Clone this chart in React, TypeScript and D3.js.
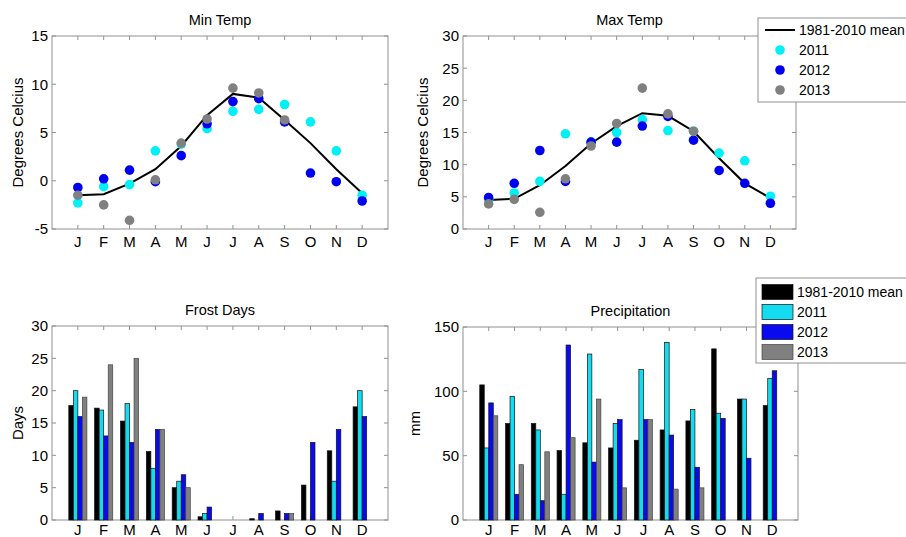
import React, { useEffect, useRef } from "react";
import * as d3 from "d3";

const months = ["J", "F", "M", "A", "M", "J", "J", "A", "S", "O", "N", "D"];
const seriesNames = ["1981-2010 mean", "2011", "2012", "2013"];

// Min temp (deg C)
const minMean = [-1.5, -1.4, -0.3, 1.2, 3.6, 6.8, 9.0, 8.6, 6.3, 3.9, 1.2, -1.3];
const min2011 = [-2.3, -0.6, -0.4, 3.1, 3.8, 5.4, 7.2, 7.4, 7.9, 6.1, 3.1, -1.5];
const min2012 = [-0.7, 0.2, 1.1, -0.1, 2.6, 5.9, 8.2, 8.5, 6.1, 0.8, -0.1, -2.1];
const min2013 = [-1.5, -2.5, -4.1, 0.1, 3.9, 6.4, 9.6, 9.1, 6.3, null, null, null];

// Max temp (deg C)
const maxMean = [4.5, 4.7, 6.8, 9.8, 13.3, 16.0, 18.0, 17.6, 15.2, 11.0, 7.1, 4.8];
const max2011 = [4.6, 5.6, 7.4, 14.8, 13.5, 15.0, 17.0, 15.3, 15.2, 11.8, 10.6, 5.1];
const max2012 = [4.9, 7.1, 12.2, 7.4, 13.5, 13.5, 16.0, 17.5, 13.8, 9.1, 7.1, 4.0];
const max2013 = [3.9, 4.6, 2.6, 7.8, 12.9, 16.4, 21.9, 17.9, 15.2, null, null, null];

// Frost days
const frostMean = [17.7, 17.3, 15.3, 10.6, 5.0, 0.5, 0, 0.2, 1.4, 5.4, 10.7, 17.5];
const frost2011 = [20, 17, 18, 8, 6, 1, 0, 0, 0, 0, 6, 20];
const frost2012 = [16, 13, 12, 14, 7, 2, 0, 1, 1, 12, 14, 16];
const frost2013 = [19, 24, 25, 14, 5, 0, 0, 0, 1, null, null, null];

// Precipitation (mm)
const precMean = [105, 75, 75, 54, 60, 56, 62, 70, 77, 133, 94, 89];
const prec2011 = [56, 96, 70, 20, 129, 75, 117, 138, 86, 83, 94, 110];
const prec2012 = [91, 20, 15, 136, 45, 78, 78, 66, 41, 79, 48, 116];
const prec2013 = [81, 43, 53, 64, 94, 25, 78, 24, 25, null, null, null];

const dotColors = ["#000000", "#00f0f5", "#0000f0", "#808080"];
const barColors = ["#000000", "#14dcf0", "#0a0af0", "#808080"];
const font = "Liberation Sans, Arial, sans-serif";
const fs = 15;

type Box = { left: number; top: number; width: number; height: number };

function drawFrame(svg: any, box: Box, yDomain: [number, number], yTicks: number[], title: string, ylabel: string, ylabelX: number) {
    const x = d3.scaleLinear().domain([0, 13]).range([box.left, box.left + box.width]);
    const y = d3.scaleLinear().domain(yDomain).range([box.top + box.height, box.top]);
    const g = svg.append("g");
    const tl = 4;
    const bottom = box.top + box.height;
    const right = box.left + box.width;

    g.append("rect")
        .attr("x", box.left).attr("y", box.top)
        .attr("width", box.width).attr("height", box.height)
        .attr("fill", "none").attr("stroke", "#909090").attr("stroke-width", 1);

    const mi = d3.range(1, 13);
    g.selectAll(".xt").data(mi).enter().append("path")
        .attr("d", (d: number) => `M${x(d)},${bottom}v${-tl}M${x(d)},${box.top}v${tl}`)
        .attr("stroke", "#909090");
    g.selectAll(".yt").data(yTicks).enter().append("path")
        .attr("d", (d: number) => `M${box.left},${y(d)}h${tl}M${right},${y(d)}h${-tl}`)
        .attr("stroke", "#909090");

    g.selectAll(".xl").data(months).enter().append("text")
        .attr("x", (_: string, i: number) => x(i + 1))
        .attr("y", Math.min(bottom + 18, 535))
        .attr("text-anchor", "middle")
        .attr("font-family", font).attr("font-size", fs)
        .text((d: string) => d);
    g.selectAll(".yl").data(yTicks).enter().append("text")
        .attr("x", box.left - 4)
        .attr("y", (d: number) => y(d))
        .attr("dy", "0.36em")
        .attr("text-anchor", "end")
        .attr("font-family", font).attr("font-size", fs)
        .text((d: number) => d);

    g.append("text")
        .attr("x", box.left + box.width / 2).attr("y", box.top - 11)
        .attr("text-anchor", "middle")
        .attr("font-family", font).attr("font-size", 14.5)
        .text(title);
    g.append("text")
        .attr("transform", `translate(${ylabelX},${box.top + box.height / 2}) rotate(-90)`)
        .attr("dy", "0.35em")
        .attr("text-anchor", "middle")
        .attr("font-family", font).attr("font-size", fs)
        .text(ylabel);

    return { x, y };
}

function drawTemp(svg: any, box: Box, yDomain: [number, number], yTicks: number[], title: string, mean: number[], years: (number | null)[][], ylabelX: number) {
    const { x, y } = drawFrame(svg, box, yDomain, yTicks, title, "Degrees Celcius", ylabelX);
    const line = d3.line<number>().x((_, i) => x(i + 1)).y(d => y(d));
    svg.append("path").datum(mean)
        .attr("d", line)
        .attr("fill", "none").attr("stroke", "#000").attr("stroke-width", 2);
    years.forEach((vals, k) => {
        const pts = vals.map((v, i) => ({ v, i })).filter(p => p.v !== null);
        svg.append("g").selectAll("circle").data(pts).enter().append("circle")
            .attr("cx", (p: any) => x(p.i + 1))
            .attr("cy", (p: any) => y(p.v))
            .attr("r", 4.8)
            .attr("fill", dotColors[k + 1]);
    });
}

function drawBars(svg: any, box: Box, yDomain: [number, number], yTicks: number[], title: string, ylabel: string, all: (number | null)[][], ylabelX: number) {
    const { x, y } = drawFrame(svg, box, yDomain, yTicks, title, ylabel, ylabelX);
    const w = 0.175;
    all.forEach((vals, k) => {
        const pts = vals.map((v, i) => ({ v, i })).filter(p => p.v !== null && (p.v as number) > 0);
        svg.append("g").selectAll("rect").data(pts).enter().append("rect")
            .attr("x", (p: any) => x(p.i + 1 + (k - 2) * w))
            .attr("width", x(w) - x(0))
            .attr("y", (p: any) => y(p.v))
            .attr("height", (p: any) => y(0) - y(p.v))
            .attr("fill", barColors[k])
            .attr("stroke", k === 3 ? "#444" : "#111")
            .attr("stroke-width", 0.7);
    });
}

function App() {
    const ref = useRef<SVGSVGElement>(null);

    useEffect(() => {
        const svg = d3.select(ref.current);
        svg.selectAll("*").remove();

        drawTemp(svg, { left: 52, top: 36, width: 336, height: 193 }, [-5, 15], [-5, 0, 5, 10, 15],
            "Min Temp", minMean, [min2011, min2012, min2013], 18);
        drawTemp(svg, { left: 463, top: 36, width: 333, height: 193 }, [0, 30], [0, 5, 10, 15, 20, 25, 30],
            "Max Temp", maxMean, [max2011, max2012, max2013], 423);
        drawBars(svg, { left: 52, top: 326, width: 336, height: 194 }, [0, 30], [0, 5, 10, 15, 20, 25, 30],
            "Frost Days", "Days", [frostMean, frost2011, frost2012, frost2013], 18);
        drawBars(svg, { left: 463, top: 327, width: 335, height: 193 }, [0, 150], [0, 50, 100, 150],
            "Precipitation", "mm", [precMean, prec2011, prec2012, prec2013], 415);

        // legend for temperature panels
        const l1 = svg.append("g");
        l1.append("rect").attr("x", 758).attr("y", 18).attr("width", 160).attr("height", 84)
            .attr("fill", "#fff").attr("stroke", "#909090");
        seriesNames.forEach((name, i) => {
            const cy = 30 + i * 20;
            if (i === 0) {
                l1.append("line").attr("x1", 765).attr("x2", 795).attr("y1", cy).attr("y2", cy)
                    .attr("stroke", "#000").attr("stroke-width", 2);
            } else {
                l1.append("circle").attr("cx", 780).attr("cy", cy).attr("r", 4.8).attr("fill", dotColors[i]);
            }
            l1.append("text").attr("x", 799).attr("y", cy).attr("dy", "0.36em")
                .attr("font-family", font).attr("font-size", 14).text(name);
        });

        // legend for bar panels
        const l2 = svg.append("g");
        l2.append("rect").attr("x", 756).attr("y", 278).attr("width", 160).attr("height", 85)
            .attr("fill", "#fff").attr("stroke", "#909090");
        seriesNames.forEach((name, i) => {
            const cy = 292 + i * 20;
            l2.append("rect").attr("x", 762).attr("y", cy - 7.5).attr("width", 31).attr("height", 15)
                .attr("fill", barColors[i]).attr("stroke", i === 3 ? "#444" : "#111").attr("stroke-width", 0.7);
            l2.append("text").attr("x", 797).attr("y", cy).attr("dy", "0.36em")
                .attr("font-family", font).attr("font-size", 14).text(name);
        });
    }, []);

    return (
        <svg ref={ref} width={906} height={537}
            style={{ position: "absolute", left: 0, top: 0, background: "#fff" }} />
    );
}

export default App;
